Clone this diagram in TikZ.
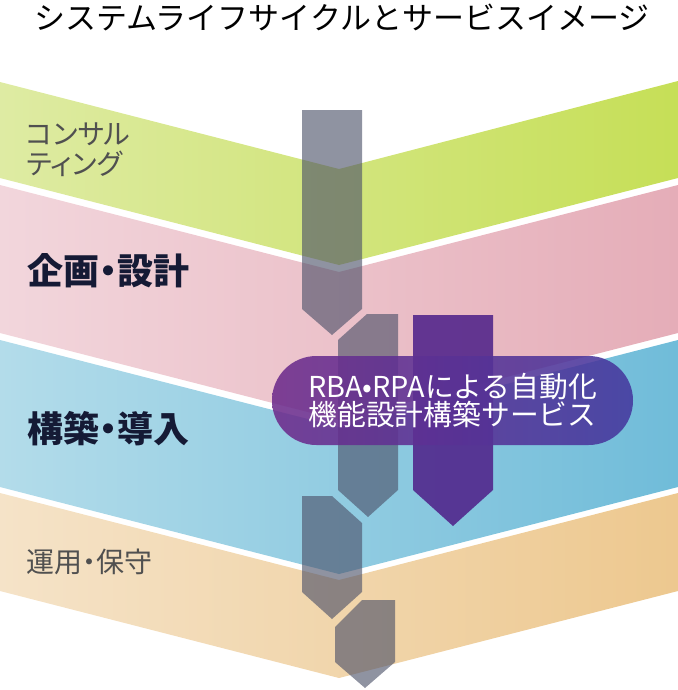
\documentclass[tikz,border=0pt]{standalone}
\usepackage{fontspec}
\newfontfamily\jp{Noto Sans CJK JP}
\newfontfamily\jpp{Noto Sans CJK JP}[RawFeature=+palt]
\definecolor{gL}{HTML}{DEEBA3}\definecolor{gR}{HTML}{C6DF57}
\definecolor{pL}{HTML}{F2D6DC}\definecolor{pR}{HTML}{E5ADB8}
\definecolor{bL}{HTML}{B3DCEA}\definecolor{bR}{HTML}{70BCD9}
\definecolor{oL}{HTML}{F5E3C8}\definecolor{oR}{HTML}{EDC88F}
\definecolor{agray}{HTML}{4B5068}
\definecolor{apurple}{HTML}{50238A}
\definecolor{rL}{HTML}{6E2C8C}\definecolor{rR}{HTML}{45389E}
\definecolor{lgray}{HTML}{505050}
\definecolor{lnavy}{HTML}{151A35}
\tikzset{
  bandshape/.style={draw=none},
  grayarrow/.style={fill=agray, fill opacity=0.62, draw=none},
  purplearrow/.style={fill=apurple, fill opacity=0.88, draw=none},
  rbox/.style={rounded corners=33.3pt, minimum width=270.75pt, minimum height=66.75pt,
    left color=rL, right color=rR, fill opacity=0.88, text opacity=1, text=white,
    inner sep=0pt, align=center, font=\jp\fontsize{21.6pt}{22pt}\selectfont},
  lab/.style={anchor=west, inner sep=0pt, text=lgray, align=left,
    font=\jpp\fontsize{21pt}{22.5pt}\selectfont},
  blab/.style={anchor=west, inner sep=0pt, text=lnavy,
    font=\jpp\bfseries\fontsize{27pt}{28pt}\selectfont},
}
\begin{document}
\begin{tikzpicture}[x=0.75pt,y=-0.75pt]
\useasboundingbox (0,0) rectangle (678,690);
% bands
\path[bandshape, left color=gL, right color=gR] (0,82) -- (339,169) -- (678,81) -- (678,178) -- (339,265) -- (0,178) -- cycle;
\path[bandshape, left color=pL, right color=pR] (0,185) -- (339,272) -- (678,185) -- (678,333) -- (339,420) -- (0,333) -- cycle;
\path[bandshape, left color=bL, right color=bR] (0,340) -- (339,427) -- (678,340) -- (678,487) -- (339,574) -- (0,487) -- cycle;
\path[bandshape, left color=oL, right color=oR] (0,493) -- (339,580) -- (678,493) -- (678,591) -- (339,678) -- (0,591) -- cycle;
% gray arrows
\path[grayarrow] (302,110) -- (362,110) -- (362,309) -- (332,335) -- (302,309) -- cycle;
\path[grayarrow] (367,314) -- (398,314) -- (398,490) -- (368,517) -- (338,490) -- (338,340) -- cycle;
\path[grayarrow] (302,496) -- (332,496) -- (362,523) -- (362,592) -- (332,619) -- (302,592) -- cycle;
\path[grayarrow] (362,600) -- (395,600) -- (395,662) -- (365,688) -- (335,662) -- (335,627) -- cycle;
% purple arrow
\path[purplearrow] (413,315) -- (493,315) -- (493,490) -- (453,526) -- (413,490) -- cycle;
% service box
\node[rbox] (svc) at (452.5,400.5) {RBA•RPAによる自動化\\[-1pt]機能設計構築サービス};
% title
\node[inner sep=0pt, font=\jp\fontsize{23.25pt}{24pt}\selectfont] (title) at (342,17) {システムライフサイクルとサービスイメージ};
% labels
\node[lab] (consul) at (26,150) {コンサル\\ティング};
\node[blab] (plan) at (27,271) {企画・設計};
\node[blab] (build) at (27,429) {構築・導入};
\node[lab] (ops) at (26,562) {運用・保守};
\end{tikzpicture}
\end{document}
